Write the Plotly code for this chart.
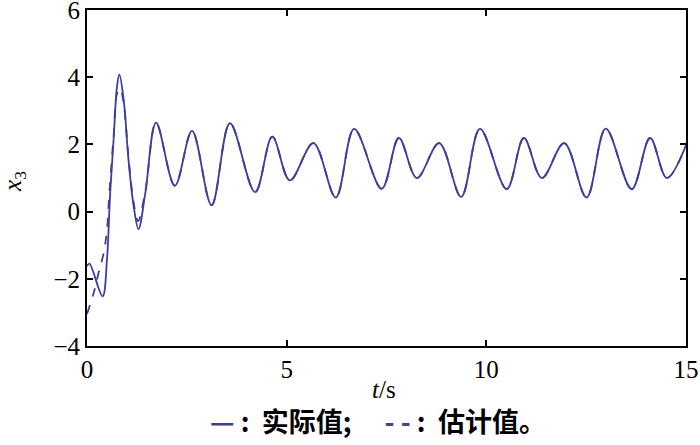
import plotly.graph_objects as go

# time (s) and values
t_actual = [0.00, 0.06, 0.39, 0.50, 0.58, 0.67, 0.75, 0.81, 0.92, 1.04, 1.17, 1.29, 1.46,
            1.73, 2.20, 2.63, 3.12, 3.58, 4.21, 4.64, 5.08, 5.67, 6.23, 6.69, 7.38,
            7.81, 8.26, 8.82, 9.37, 9.84, 10.51, 10.94, 11.39, 11.95, 12.51, 12.99,
            13.64, 14.10, 14.52, 15.00]
x3_actual = [-1.62, -1.55, -2.52, -1.43, 0.55, 2.22, 3.71, 4.08, 3.31, 1.53, 0.15, -0.52, 0.55,
             2.65, 0.77, 2.40, 0.19, 2.63, 0.58, 2.23, 0.93, 2.04, 0.42, 2.46, 0.68,
             2.19, 1.00, 2.04, 0.44, 2.46, 0.67, 2.19, 1.00, 2.04, 0.42, 2.47,
             0.67, 2.19, 1.00, 1.97]

t_est = [0.00, 0.17, 0.29, 0.42, 0.50, 0.56, 0.67, 0.75, 0.83, 0.92, 1.04, 1.17, 1.28, 1.46,
         1.73, 2.20, 2.63, 3.12, 3.58, 4.21, 4.64, 5.08, 5.67, 6.23, 6.69, 7.38,
         7.81, 8.26, 8.82, 9.37, 9.84, 10.51, 10.94, 11.39, 11.95, 12.51, 12.99,
         13.64, 14.10, 14.52, 15.00]
x3_est = [-3.05, -2.41, -1.82, -1.22, -0.54, 0.55, 2.30, 3.50, 3.66, 3.20, 1.60, 0.25, -0.28, 0.60,
          2.65, 0.77, 2.40, 0.19, 2.63, 0.58, 2.23, 0.93, 2.04, 0.42, 2.46, 0.68,
          2.19, 1.00, 2.04, 0.44, 2.46, 0.67, 2.19, 1.00, 2.04, 0.42, 2.47,
          0.67, 2.19, 1.00, 1.97]

x_ticks = [0, 5, 10, 15]
y_ticks = [-4, -2, 0, 2, 4, 6]

COLOR = "#3D3F9B"
SERIF = "Liberation Serif"

fig = go.Figure()
fig.add_trace(go.Scatter(x=t_est, y=x3_est, mode="lines",
                         line=dict(color=COLOR, width=1.8, dash="dash", shape="spline", smoothing=1.0),
                         name="估计值"))
fig.add_trace(go.Scatter(x=t_actual, y=x3_actual, mode="lines",
                         line=dict(color=COLOR, width=1.8, shape="spline", smoothing=1.0),
                         name="实际值"))

axis_common = dict(showgrid=False, zeroline=False, showline=True, linecolor="black", linewidth=2,
                   mirror="ticks", ticks="inside", ticklen=6, tickwidth=1.5, tickcolor="black",
                   automargin=False, ticklabeloverflow="allow",
                   tickfont=dict(family=SERIF, size=25, color="black"))

fig.update_xaxes(range=[0, 15], tickvals=x_ticks, ticktext=[str(v) for v in x_ticks], **axis_common)
fig.update_yaxes(range=[-4, 6], tickvals=y_ticks,
                 ticktext=[str(v) if v >= 0 else "\u2212" + str(-v) for v in y_ticks],
                 **axis_common)

fig.add_annotation(text="<i>x</i><sub>3</sub>", xref="paper", yref="paper", x=-0.121, y=0.49,
                   textangle=-90, showarrow=False, xanchor="center", yanchor="middle",
                   font=dict(family=SERIF, size=25, color="black"))
fig.add_annotation(text="<i>t</i>/s", xref="paper", yref="paper", x=0.495, y=-0.13,
                   showarrow=False, xanchor="center", yanchor="middle",
                   font=dict(family=SERIF, size=25, color="black"))
NB = "\u00a0"
legend_text = (f"<span style='color:{COLOR}'>—</span>{NB}:{NB}{NB}实际值;\u3000{NB}"
               f"<span style='color:{COLOR}'>-{NB}-</span>{NB}:{NB}{NB}估计值。")
fig.add_annotation(text=legend_text,
                   xref="paper", yref="paper", x=0.485, y=-0.222,
                   showarrow=False, xanchor="center", yanchor="middle",
                   font=dict(family="Noto Sans CJK SC", size=27, color="black", weight="bold"))

fig.update_layout(width=700, height=445, showlegend=False,
                  paper_bgcolor="white", plot_bgcolor="white",
                  margin=dict(l=87, r=14, t=10, b=99, autoexpand=False))

fig.write_html("out.html", config={"displayModeBar": False},
               post_script="document.body.style.margin='0';document.body.style.overflow='hidden';")
